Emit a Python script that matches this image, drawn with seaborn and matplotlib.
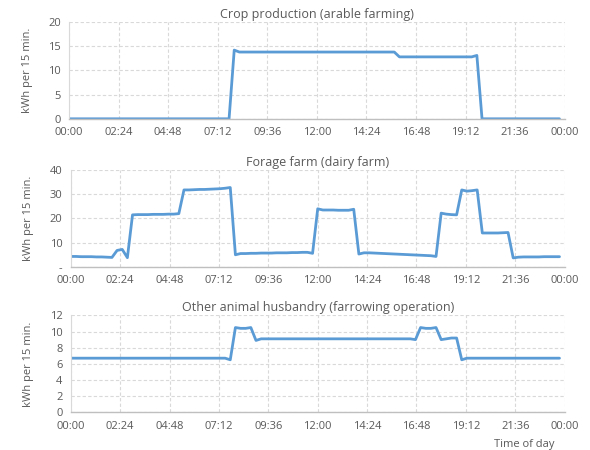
import numpy as np
import pandas as pd
import matplotlib.pyplot as plt
import seaborn as sns

plt.switch_backend('Agg')

# 15-minute readings, one row per hour (00:00 ... 23:45)
crop = [
    0, 0, 0, 0,  0, 0, 0, 0,  0, 0, 0, 0,  0, 0, 0, 0,
    0, 0, 0, 0,  0, 0, 0, 0,  0, 0, 0, 0,  0, 0, 0, 0,
    14.2, 13.8, 13.8, 13.8,  13.8, 13.8, 13.8, 13.8,  13.8, 13.8, 13.8, 13.8,
    13.8, 13.8, 13.8, 13.8,  13.8, 13.8, 13.8, 13.8,  13.8, 13.8, 13.8, 13.8,
    13.8, 13.8, 13.8, 13.8,  13.8, 13.8, 13.8, 13.8,
    12.8, 12.8, 12.8, 12.8,  12.8, 12.8, 12.8, 12.8,  12.8, 12.8, 12.8, 12.8,
    12.8, 12.8, 12.8, 13.1,
    0, 0, 0, 0,  0, 0, 0, 0,  0, 0, 0, 0,  0, 0, 0, 0,
]

forage = [
    4.3, 4.3, 4.2, 4.2,  4.2, 4.1, 4.1, 4.0,  3.9, 6.8, 7.2, 3.8,
    21.5, 21.6, 21.6, 21.6,  21.7, 21.7, 21.7, 21.8,  21.8, 22.0, 31.8, 31.8,
    31.9, 32.0, 32.0, 32.1,  32.2, 32.3, 32.5, 32.8,  5.0, 5.5, 5.5, 5.6,
    5.6, 5.7, 5.7, 5.7,  5.8, 5.8, 5.8, 5.9,  5.9, 6.0, 6.0, 5.6,
    24.0, 23.5, 23.5, 23.5,  23.4, 23.4, 23.4, 23.8,  5.3, 5.8, 5.8, 5.7,
    5.6, 5.5, 5.4, 5.3,  5.2, 5.1, 5.0, 4.9,  4.8, 4.7, 4.6, 4.3,
    22.2, 21.8, 21.6, 21.5,  31.8, 31.3, 31.5, 31.8,  14.0, 14.0, 14.0, 14.0,
    14.1, 14.2, 3.7, 4.0,  4.1, 4.1, 4.1, 4.1,  4.2, 4.2, 4.2, 4.2,
]

farrowing = [
    6.7, 6.7, 6.7, 6.7,  6.7, 6.7, 6.7, 6.7,  6.7, 6.7, 6.7, 6.7,
    6.7, 6.7, 6.7, 6.7,  6.7, 6.7, 6.7, 6.7,  6.7, 6.7, 6.7, 6.7,
    6.7, 6.7, 6.7, 6.7,  6.7, 6.7, 6.7, 6.5,  10.5, 10.4, 10.4, 10.5,
    8.9, 9.1, 9.1, 9.1,  9.1, 9.1, 9.1, 9.1,  9.1, 9.1, 9.1, 9.1,
    9.1, 9.1, 9.1, 9.1,  9.1, 9.1, 9.1, 9.1,  9.1, 9.1, 9.1, 9.1,
    9.1, 9.1, 9.1, 9.1,  9.1, 9.1, 9.1, 9.0,  10.5, 10.4, 10.4, 10.5,
    9.0, 9.1, 9.2, 9.2,  6.5, 6.7, 6.7, 6.7,  6.7, 6.7, 6.7, 6.7,
    6.7, 6.7, 6.7, 6.7,  6.7, 6.7, 6.7, 6.7,  6.7, 6.7, 6.7, 6.7,
]

titles = ['Crop production (arable farming)',
          'Forage farm (dairy farm)',
          'Other animal husbandry (farrowing operation)']
y_ticks = [[0, 5, 10, 15, 20], [0, 10, 20, 30, 40], [0, 2, 4, 6, 8, 10, 12]]
y_ticklabels = [['0', '5', '10', '15', '20'],
                ['-', '10', '20', '30', '40'],
                ['0', '2', '4', '6', '8', '10', '12']]
x_ticklabels = ['00:00', '02:24', '04:48', '07:12', '09:36', '12:00',
                '14:24', '16:48', '19:12', '21:36', '00:00']

minutes = np.arange(0, 24 * 60, 15)
hours = minutes / 60.0

sns.set_style('white')
plt.rcParams['font.family'] = ['Open Sans', 'DejaVu Sans']

TEXT = '#595959'
GRID = '#D9D9D9'
LINE = '#5B9BD5'

fig = plt.figure(figsize=(5.9, 4.5), dpi=100)

# axes boxes in figure fractions: [left, bottom, width, height]
boxes = [
    [0.117, 0.736, 0.840, 0.215],
    [0.120, 0.407, 0.837, 0.215],
    [0.120, 0.084, 0.837, 0.215],
]

for box, values, title, yt, ytl in zip(boxes, [crop, forage, farrowing], titles,
                                       y_ticks, y_ticklabels):
    ax = fig.add_axes(box)
    df = pd.DataFrame({'hour': hours, 'kwh': values})
    sns.lineplot(data=df, x='hour', y='kwh', ax=ax, color=LINE, linewidth=2.0)

    ax.set_xlim(0, 24)
    ax.set_ylim(yt[0], yt[-1])
    ax.set_xticks(np.linspace(0, 24, 11))
    ax.set_xticklabels(x_ticklabels)
    ax.set_yticks(yt)
    ax.set_yticklabels(ytl)
    ax.tick_params(axis='both', labelsize=8, colors=TEXT, length=0, pad=6)

    ax.grid(True, color=GRID, linestyle=(0, (3, 2)), linewidth=0.8)
    ax.set_axisbelow(True)
    for side in ['top', 'right']:
        ax.spines[side].set_visible(False)
    ax.spines['left'].set_color(GRID)
    ax.spines['left'].set_linewidth(0.8)
    ax.spines['bottom'].set_color('#BFBFBF')
    ax.spines['bottom'].set_linewidth(1.0)

    ax.set_xlabel('')
    ax.set_ylabel('kWh per 15 min.', fontsize=8, color=TEXT, labelpad=11)
    ax.set_title(title, fontsize=9, color=TEXT, pad=3)

fig.text(0.888, 0.006, 'Time of day', fontsize=8, color=TEXT, ha='center')

fig.savefig('out.png', dpi=100)
plt.close(fig)
